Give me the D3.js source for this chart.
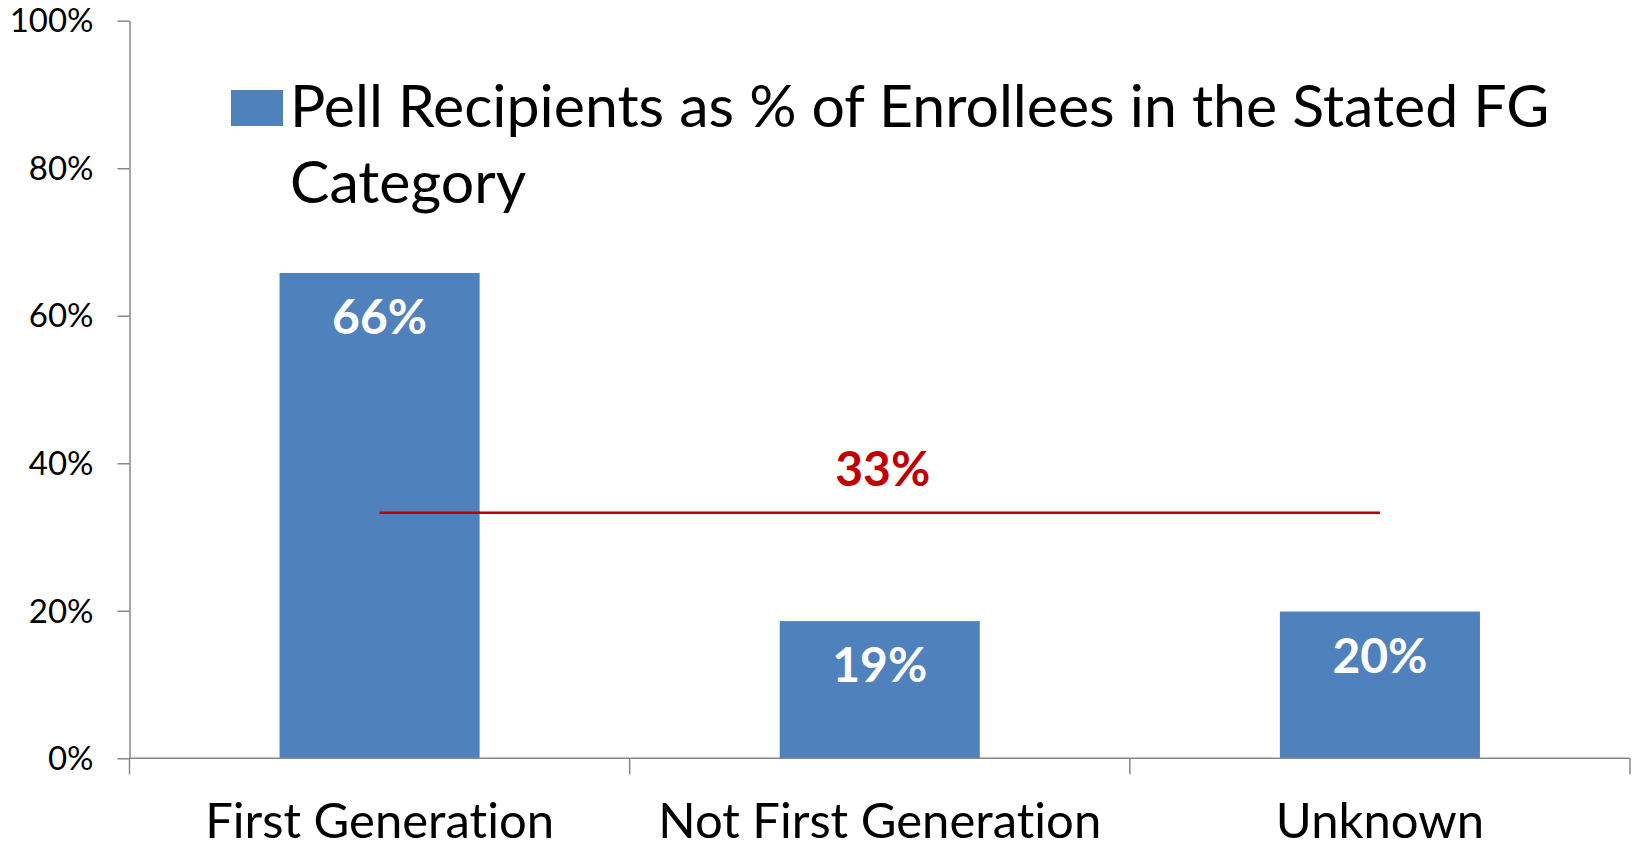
<!DOCTYPE html>
<html>
<head>
<meta charset="utf-8">
<script src="https://cdn.jsdelivr.net/npm/d3@7"></script>
<style>
  html, body { margin: 0; padding: 0; background: #fff; }
  svg { display: block; font-family: Lato, "Open Sans", sans-serif; font-variant-ligatures: none; }
</style>
</head>
<body>
<svg id="chart" width="1636" height="849"></svg>
<script>
// --- data ---
const categories = ["First Generation", "Not First Generation", "Unknown"];
const pellShare = [0.658, 0.186, 0.199];
const barLabels = ["66%", "19%", "20%"];
const overallShare = 0.333;
const overallLabel = "33%";
const yTicks = [0, 0.2, 0.4, 0.6, 0.8, 1.0];
const legendLines = ["Pell Recipients as % of Enrollees in the Stated FG", "Category"];

// --- layout ---
const width = 1636, height = 849;
const margin = { top: 20.7, right: 6, bottom: 90.7, left: 129.5 };
const barColor = "#4F81BD";
const axisColor = "#878787";
const lineColor = "#C00000";

const svg = d3.select("#chart");

const x = d3.scaleBand()
  .domain(categories)
  .range([margin.left, width - margin.right])
  .paddingInner(0.6)
  .paddingOuter(0.3);

const y = d3.scaleLinear()
  .domain([0, 1])
  .range([height - margin.bottom, margin.top]);

const rows = categories.map((c, i) => ({ cat: c, value: pellShare[i], label: barLabels[i] }));

// Bars
svg.append("g")
  .selectAll("rect")
  .data(rows)
  .join("rect")
  .attr("x", d => x(d.cat))
  .attr("y", d => y(d.value))
  .attr("width", x.bandwidth())
  .attr("height", d => y(0) - y(d.value))
  .attr("fill", barColor);

// Y axis
const yAxis = svg.append("g")
  .attr("transform", `translate(${margin.left},0)`)
  .call(d3.axisLeft(y)
    .tickValues(yTicks)
    .tickFormat(d3.format(".0%"))
    .tickSize(12)
    .tickSizeOuter(0)
    .tickPadding(24));
yAxis.select(".domain").attr("stroke", axisColor).attr("stroke-width", 1.5);
yAxis.selectAll(".tick line").attr("stroke", axisColor).attr("stroke-width", 1.5);
yAxis.selectAll(".tick text")
  .attr("font-family", "Lato, 'Open Sans', sans-serif")
  .attr("font-size", 33)
  .attr("fill", "#000")
  .attr("dy", "0.34em");

// X axis: baseline plus ticks at category boundaries
const xAxis = svg.append("g").attr("transform", `translate(0,${y(0)})`);
xAxis.append("line")
  .attr("x1", margin.left).attr("x2", width - margin.right)
  .attr("stroke", axisColor).attr("stroke-width", 1.5);
const step = x.step();
const bounds = d3.range(categories.length + 1).map(i => margin.left + i * step);
xAxis.selectAll(".xtick")
  .data(bounds)
  .join("line")
  .attr("class", "xtick")
  .attr("x1", d => d).attr("x2", d => d)
  .attr("y1", 0).attr("y2", 16)
  .attr("stroke", axisColor).attr("stroke-width", 1.5);
xAxis.selectAll(".xlabel")
  .data(categories)
  .join("text")
  .attr("class", "xlabel")
  .attr("x", d => x(d) + x.bandwidth() / 2)
  .attr("y", 80)
  .attr("text-anchor", "middle")
  .attr("font-size", 49)
  .attr("fill", "#000")
  .text(d => d);

// Value labels inside bars
svg.append("g")
  .selectAll("text")
  .data(rows)
  .join("text")
  .attr("x", d => x(d.cat) + x.bandwidth() / 2)
  .attr("y", d => y(d.value) + 61)
  .attr("text-anchor", "middle")
  .attr("font-size", 48)
  .attr("font-weight", "bold")
  .attr("fill", "#fff")
  .text(d => d.label);

// Overall share reference line
const cx = i => x(categories[i]) + x.bandwidth() / 2;
svg.append("line")
  .attr("x1", cx(0)).attr("x2", cx(categories.length - 1))
  .attr("y1", y(overallShare)).attr("y2", y(overallShare))
  .attr("stroke", lineColor).attr("stroke-width", 2.5);
svg.append("text")
  .attr("x", cx(1) + 3)
  .attr("y", y(overallShare) - 27)
  .attr("text-anchor", "middle")
  .attr("font-size", 48)
  .attr("font-weight", "bold")
  .attr("fill", lineColor)
  .text(overallLabel);

// Legend
const legend = svg.append("g").attr("transform", "translate(231,90)");
legend.append("rect")
  .attr("width", 52).attr("height", 36)
  .attr("fill", barColor);
legend.selectAll("text")
  .data(legendLines)
  .join("text")
  .attr("x", 59)
  .attr("y", (d, i) => 36.5 + i * 76.5)
  .attr("font-size", 59)
  .attr("fill", "#000")
  .text(d => d);
</script>
</body>
</html>
